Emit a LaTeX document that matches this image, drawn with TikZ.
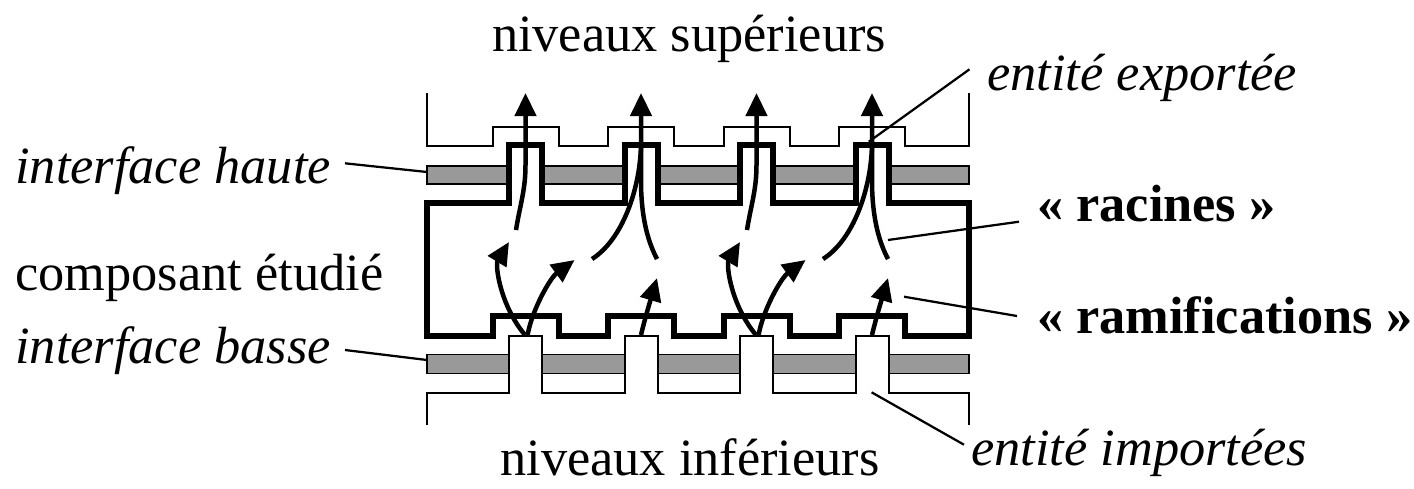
\documentclass[tikz,border=0pt]{standalone}
\usepackage{fontspec}
\setmainfont{Liberation Serif}
\usetikzlibrary{arrows.meta}
\definecolor{bargray}{gray}{0.6}
\begin{document}
\begin{tikzpicture}[
      x=0.02cm, y=-0.02cm,
      every node/.style={inner sep=0pt, font=\fontsize{29.8}{36}\selectfont},
      bracket/.style={line width=0.04cm},
      wall/.style={line width=0.12cm},
      bar/.style={draw, fill=bargray, line width=0.035cm},
      root/.style={line width=0.09cm},
      flow/.style={root, -{Triangle[length=0.46cm,width=0.42cm]}},
      leader/.style={line width=0.045cm}
    ]
      \useasboundingbox (0,0) rectangle (1414,488);

      % Labels
      \node[anchor=base] (sup) at (689,51.7) {niveaux supérieurs};
      \node[anchor=base, text depth=0pt] (inf) at (690,475) {niveaux inférieurs};
      \node[anchor=base west] (ihaute) at (15,183.3) {\itshape interface haute};
      \node[anchor=base west] (comp) at (15,290) {composant étudié};
      \node[anchor=base west] (ibasse) at (15,363.3) {\itshape interface basse};
      \node[anchor=base west] (export) at (987,90) {\itshape entité exportée};
      \node[anchor=base west] (racines) at (1036.7,221.7) {\bfseries « racines »};
      \node[anchor=base west] (ramif) at (1036.7,333) {\bfseries « ramifications »};
      \node[anchor=base west] (import) at (971,465) {\itshape entité importées};

      % Interfaces
      \foreach \a/\b in {427/509, 542/624.5, 657.5/740, 773/855.5, 888.5/969} {
        \draw[bar] (\a,166) rectangle (\b,184);
        \draw[bar] (\a,354.5) rectangle (\b,373.5);
      }

      % Upper and lower levels
      \draw[bracket] (427,93) -- (427,146)
        \foreach \c in {525.5,641,756.5,872} { -- (\c-33,146) -- (\c-33,127) -- (\c+33,127) -- (\c+33,146) }
        -- (969,146) -- (969,93);
      \draw[bracket] (427,425) -- (427,392.5)
        \foreach \c in {525.5,641,756.5,872} { -- (\c-16.5,392.5) -- (\c-16.5,336) -- (\c+16.5,336) -- (\c+16.5,392.5) }
        -- (969,392.5) -- (969,425);

      % Component
      \draw[wall] (427,203)
        \foreach \c in {525.5,641,756.5,872} { -- (\c-16.5,203) -- (\c-16.5,144.5) -- (\c+16.5,144.5) -- (\c+16.5,203) }
        -- (969,203) -- (969,336)
        \foreach \c in {872,756.5,641,525.5} { -- (\c+33,336) -- (\c+33,316) -- (\c-33,316) -- (\c-33,336) }
        -- (427,336) -- cycle;

      % Roots and ramifications
      \foreach \s in {0,231} {
        \begin{scope}[xshift=\s*0.02cm]
          \draw[flow] (516,230) .. controls (520,205) and (525.5,190) .. (525.5,165) -- (525.5,93);
          \draw[flow] (657,259) .. controls (647,240) and (641,215) .. (641,180) -- (641,93);
          \draw[root] (592,259) .. controls (622,240) and (640,190) .. (641,145);
          \draw[flow] (525,335) .. controls (500,305) and (495,265) .. (509,242);
          \draw[flow] (527.6,335) .. controls (532,310) and (550,278) .. (574.6,260);
          \draw[flow] (641,335) .. controls (645,318) and (652,295) .. (657,278);
        \end{scope}
      }

      % Leaders
      \coordinate (ih-a) at (345,163.3);  \coordinate (ih-b) at (427,172);
      \coordinate (ib-a) at (345,350);    \coordinate (ib-b) at (427,360);
      \coordinate (ex-a) at (969.5,69.3); \coordinate (ex-b) at (868.8,141.7);
      \coordinate (ra-a) at (1019,221.7); \coordinate (ra-b) at (888,240);
      \coordinate (rm-a) at (1017,316);   \coordinate (rm-b) at (904,296.7);
      \coordinate (im-a) at (964,444.7);  \coordinate (im-b) at (871.6,392.3);
      \foreach \p in {ih,ib,ex,ra,rm,im}
        \draw[leader] (\p-a) -- (\p-b);
    \end{tikzpicture}
\end{document}
